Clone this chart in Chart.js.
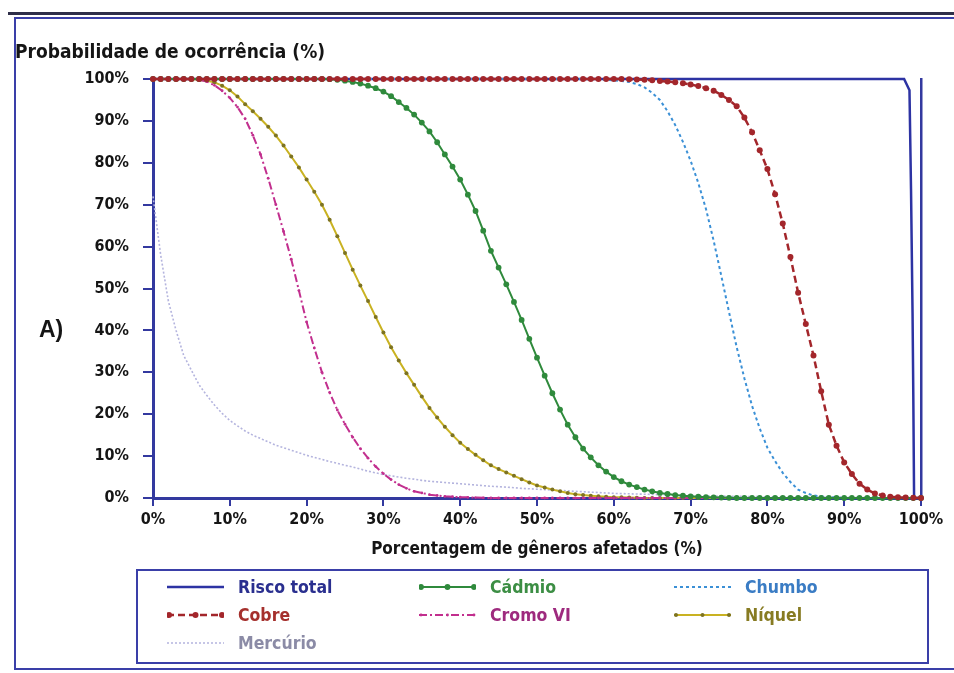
<!DOCTYPE html>
<html lang="pt">
<head>
<meta charset="utf-8">
<script src="https://cdn.jsdelivr.net/npm/chart.js@4.4.1/dist/chart.umd.min.js"></script>
<style>
  html, body { margin: 0; padding: 0; background: #fff; }
  #painel { position: relative; width: 954px; height: 673px; overflow: hidden; background: #fff;
            font-family: 'Liberation Sans Narrow', 'DejaVu Sans Condensed', 'Arial Narrow', sans-serif; }
  #linhaTopo { position: absolute; left: 8px; right: 0; top: 12px; height: 3px; background: #2e2e48; }
  #moldura { position: absolute; left: 14px; top: 17px; right: -6px; bottom: 3px; border: 2px solid #3a3fa8; }
  #grafico { position: absolute; left: 0; top: 0; }
  #tituloY { position: absolute; left: 15px; top: 40px; font-weight: bold; font-size: 19px; color: #151515; }
  #rotuloA { position: absolute; left: 39px; top: 316px; font: bold 23px 'Liberation Sans', Arial, sans-serif; color: #151515; }
  #legenda { position: absolute; left: 136px; top: 569px; width: 789px; height: 91px; border: 2px solid #3a3fa8; }
  .item { position: absolute; height: 24px; display: flex; align-items: center; font-weight: bold; font-size: 17.5px; white-space: nowrap; }
  .item svg { margin-right: 14px; }
</style>
</head>
<body>
<div id="painel">
  <div id="linhaTopo"></div>
  <div id="moldura"></div>
  <canvas id="grafico" width="954" height="673"></canvas>
  <div id="tituloY">Probabilidade de ocorrência (%)</div>
  <div id="rotuloA">A)</div>
  <div id="legenda"></div>
</div>
<script>
// Percentage of affected genera (x), in 1% steps
const generosPct = [
  0, 1, 2, 3, 4, 5, 6, 7, 8, 9,
  10, 11, 12, 13, 14, 15, 16, 17, 18, 19,
  20, 21, 22, 23, 24, 25, 26, 27, 28, 29,
  30, 31, 32, 33, 34, 35, 36, 37, 38, 39,
  40, 41, 42, 43, 44, 45, 46, 47, 48, 49,
  50, 51, 52, 53, 54, 55, 56, 57, 58, 59,
  60, 61, 62, 63, 64, 65, 66, 67, 68, 69,
  70, 71, 72, 73, 74, 75, 76, 77, 78, 79,
  80, 81, 82, 83, 84, 85, 86, 87, 88, 89,
  90, 91, 92, 93, 94, 95, 96, 97, 98, 99,
  100
];

// Probability of occurrence (%) per metal
const cobre = [
  100, 100, 100, 100, 100, 100, 100, 100, 100, 100,
  100, 100, 100, 100, 100, 100, 100, 100, 100, 100,
  100, 100, 100, 100, 100, 100, 100, 100, 100, 100,
  100, 100, 100, 100, 100, 100, 100, 100, 100, 100,
  100, 100, 100, 100, 100, 100, 100, 100, 100, 100,
  100, 100, 100, 100, 100, 100, 100, 100, 100, 100,
  100, 100, 99.95, 99.9, 99.8, 99.7, 99.55, 99.4, 99.2, 99,
  98.7, 98.3, 97.8, 97.2, 96.2, 95, 93.5, 90.8, 87.3, 83,
  78.5, 72.5, 65.5, 57.5, 49, 41.5, 34, 25.5, 17.5, 12.5,
  8.5, 5.7, 3.4, 2, 1.1, 0.6, 0.3, 0.15, 0.1, 0.05,
  0
];

const mercurio = [
  72, 58, 47, 40, 34, 30.5, 27, 24.5, 22.2, 20.2,
  18.5, 17.2, 16, 15, 14.2, 13.4, 12.6, 12, 11.4, 10.8,
  10.2, 9.7, 9.2, 8.7, 8.3, 7.8, 7.4, 6.9, 6.4, 6,
  5.6, 5.3, 5, 4.7, 4.5, 4.2, 4, 3.85, 3.7, 3.55,
  3.4, 3.25, 3.1, 2.95, 2.8, 2.7, 2.6, 2.45, 2.3, 2.2,
  2.1, 2, 1.9, 1.8, 1.7, 1.6, 1.5, 1.4, 1.3, 1.2,
  1.1, 1.05, 1, 0.95, 0.9, 0.85, 0.8, 0.75, 0.7, 0.65,
  0.6, 0.55, 0.5, 0.48, 0.45, 0.42, 0.4, 0.38, 0.35, 0.32,
  0.3, 0.28, 0.27, 0.26, 0.25, 0.24, 0.23, 0.22, 0.21, 0.2,
  0.19, 0.18, 0.17, 0.16, 0.15, 0.14, 0.13, 0.12, 0.11, 0.1,
  0.1
];

const cadmio = [
  100, 100, 100, 100, 100, 100, 100, 100, 100, 100,
  100, 100, 100, 100, 100, 100, 100, 100, 100, 100,
  100, 100, 100, 99.95, 99.8, 99.6, 99.3, 98.9, 98.4, 97.8,
  97, 95.9, 94.5, 93.1, 91.5, 89.6, 87.5, 84.9, 82, 79.1,
  76, 72.4, 68.5, 63.8, 59, 55, 51, 46.8, 42.5, 38,
  33.5, 29.2, 25, 21.1, 17.5, 14.5, 11.8, 9.7, 7.8, 6.3,
  5, 4, 3.2, 2.6, 2, 1.6, 1.2, 0.95, 0.7, 0.55,
  0.4, 0.3, 0.2, 0.15, 0.1, 0.05, 0, 0, 0, 0,
  0, 0, 0, 0, 0, 0, 0, 0, 0, 0,
  0, 0, 0, 0, 0, 0, 0, 0, 0, 0,
  0
];

const cromoVI = [
  100, 100, 100, 100, 100, 99.9, 99.8, 99.4, 98.5, 97.2,
  95.5, 93.3, 90.5, 86.6, 82, 76.3, 70, 63.6, 57, 49.5,
  42, 35.8, 30, 25.2, 21, 17.6, 14.5, 11.8, 9.5, 7.5,
  5.8, 4.4, 3.2, 2.3, 1.6, 1.2, 0.8, 0.6, 0.4, 0.3,
  0.2, 0.15, 0.1, 0.05, 0, 0, 0, 0, 0, 0,
  0, 0, 0, 0, 0, 0, 0, 0, 0, 0,
  0, 0, 0, 0, 0, 0, 0, 0, 0, 0,
  0, 0, 0, 0, 0, 0, 0, 0, 0, 0,
  0, 0, 0, 0, 0, 0, 0, 0, 0, 0,
  0, 0, 0, 0, 0, 0, 0, 0, 0, 0,
  0
];

const chumbo = [
  100, 100, 100, 100, 100, 100, 100, 100, 100, 100,
  100, 100, 100, 100, 100, 100, 100, 100, 100, 100,
  100, 100, 100, 100, 100, 100, 100, 100, 100, 100,
  100, 100, 100, 100, 100, 100, 100, 100, 100, 100,
  100, 100, 100, 100, 100, 100, 100, 100, 100, 100,
  100, 100, 100, 100, 100, 100, 100, 99.95, 99.9, 99.8,
  99.7, 99.5, 99.3, 98.8, 98, 96.7, 95, 92.3, 89, 85,
  80.5, 75.2, 69, 61.4, 53, 44.4, 36, 28.6, 22, 16.6,
  12, 8.8, 6, 3.8, 2, 1.2, 0.6, 0.4, 0.2, 0.1,
  0, 0, 0, 0, 0, 0, 0, 0, 0, 0,
  0
];

const niquel = [
  100, 100, 100, 100, 100, 100, 99.8, 99.6, 99.2, 98.4,
  97.3, 95.8, 94, 92.3, 90.5, 88.6, 86.5, 84.1, 81.5, 78.9,
  76, 73.1, 70, 66.4, 62.5, 58.5, 54.5, 50.7, 47, 43.2,
  39.5, 36, 32.8, 29.8, 27, 24.2, 21.5, 19.2, 17, 15,
  13.2, 11.7, 10.3, 9, 7.8, 6.9, 6.1, 5.3, 4.5, 3.7,
  3, 2.5, 2, 1.6, 1.2, 0.9, 0.7, 0.55, 0.4, 0.3,
  0.2, 0.15, 0.1, 0.05, 0, 0, 0, 0, 0, 0,
  0, 0, 0, 0, 0, 0, 0, 0, 0, 0,
  0, 0, 0, 0, 0, 0, 0, 0, 0, 0,
  0, 0, 0, 0, 0, 0, 0, 0, 0, 0,
  0
];

// Total risk: flat at 100% until the very end, then a near-vertical drop
const riscoTotalX = [0, 97.8, 98.5, 98.7, 98.9, 99.0, 99.1, 100];
const riscoTotalY = [100, 100, 97.3, 73.7, 44, 24, 0, 0];

// Axis ticks
const ticksX = [0, 10, 20, 30, 40, 50, 60, 70, 80, 90, 100];
const ticksY = [0, 10, 20, 30, 40, 50, 60, 70, 80, 90, 100];

const AZUL_EIXO = '#33399f';
const FONTE = "'Liberation Sans Narrow', 'DejaVu Sans Condensed', 'Arial Narrow', sans-serif";

const pares = (xs, ys) => xs.map((x, i) => ({ x: x, y: ys[i] }));

const series = [
  { label: 'Risco total', xs: riscoTotalX, ys: riscoTotalY, cor: '#2d33a3', texto: '#2a2f8f',
    largura: 2.5, traco: [], raio: 0, ordem: 10 },
  { label: 'Cobre', xs: generosPct, ys: cobre, cor: '#a3262b', texto: '#a5302d',
    largura: 2.5, traco: [7, 4], raio: 3, ordem: 1 },
  { label: 'Mercúrio', xs: generosPct, ys: mercurio, cor: '#b4b4de', texto: '#8b8ba6',
    largura: 1.6, traco: [2, 2], raio: 0, ordem: 7 },
  { label: 'Cádmio', xs: generosPct, ys: cadmio, cor: '#2f8a3c', texto: '#3c8e44',
    largura: 2, traco: [], raio: 2.9, ordem: 2 },
  { label: 'Cromo VI', xs: generosPct, ys: cromoVI, cor: '#c22f8e', texto: '#9e2a7e',
    largura: 2, traco: [8, 3, 2, 3], raio: 1.4, ordem: 3 },
  { label: 'Chumbo', xs: generosPct, ys: chumbo, cor: '#3b90d6', texto: '#3a7cc4',
    largura: 2, traco: [3, 3], raio: 0, ordem: 4 },
  { label: 'Níquel', xs: generosPct, ys: niquel, cor: '#c9b222', texto: '#877b22',
    largura: 2, traco: [], raio: 2, ordem: 5, corPonto: '#7d7322' }
];

const datasets = series.map(s => ({
  label: s.label,
  data: pares(s.xs, s.ys),
  borderColor: s.cor,
  borderWidth: s.largura,
  borderDash: s.traco,
  pointRadius: s.raio,
  pointBorderWidth: 0,
  pointBackgroundColor: s.corPonto || s.cor,
  pointHoverRadius: 0,
  tension: 0,
  fill: false,
  order: s.ordem,
  clip: false
}));

const eixoFonte = { family: FONTE, size: 16, weight: 'bold' };

new Chart(document.getElementById('grafico'), {
  type: 'line',
  data: { datasets: datasets },
  options: {
    responsive: false,
    animation: false,
    events: [],
    layout: { padding: { left: 15, right: 33, top: 79, bottom: 108 } },
    plugins: { legend: { display: false }, title: { display: false }, tooltip: { enabled: false } },
    scales: {
      x: {
        type: 'linear', position: 'bottom', min: 0, max: 100,
        afterFit: s => { s.height = 67; },
        afterBuildTicks: s => { s.ticks = ticksX.map(v => ({ value: v })); },
        ticks: { callback: v => v + '%', color: '#151515', font: eixoFonte, padding: 4, maxRotation: 0 },
        grid: { drawOnChartArea: false, drawTicks: true, tickLength: 8, color: AZUL_EIXO, lineWidth: 2 },
        border: { display: true, color: AZUL_EIXO, width: 3 },
        title: { display: true, text: 'Porcentagem de gêneros afetados (%)', color: '#151515',
                 font: { family: FONTE, size: 17, weight: 'bold' }, padding: { top: 0, bottom: 5 } }
      },
      y: {
        type: 'linear', position: 'left', min: 0, max: 100,
        afterFit: s => { s.width = 138; },
        afterBuildTicks: s => { s.ticks = ticksY.map(v => ({ value: v })); },
        ticks: { callback: v => v + '%', color: '#151515', font: eixoFonte, padding: 14 },
        grid: { drawOnChartArea: false, drawTicks: true, tickLength: 10, color: AZUL_EIXO, lineWidth: 2 },
        border: { display: true, color: AZUL_EIXO, width: 3 }
      },
      y2: {
        type: 'linear', position: 'right', min: 0, max: 100,
        afterFit: s => { s.width = 0; },
        ticks: { display: false },
        grid: { display: false, drawTicks: false },
        border: { display: true, color: AZUL_EIXO, width: 2.5 }
      }
    }
  }
});

// Legend: three columns inside a framed box
const legendaLayout = [
  ['Risco total', 0, 0], ['Cádmio', 1, 0], ['Chumbo', 2, 0],
  ['Cobre', 0, 1], ['Cromo VI', 1, 1], ['Níquel', 2, 1],
  ['Mercúrio', 0, 2]
];
const colunasX = [29, 281, 536];
const linhasY = [4, 32, 60];
const caixa = document.getElementById('legenda');
legendaLayout.forEach(([nome, c, l]) => {
  const s = series.find(v => v.label === nome);
  const w = 57, h = 10, m = h / 2;
  let svg = `<svg width="${w}" height="${h}" viewBox="0 0 ${w} ${h}">` +
    `<line x1="0" y1="${m}" x2="${w}" y2="${m}" stroke="${s.cor}" stroke-width="${s.largura}"` +
    (s.traco.length ? ` stroke-dasharray="${s.traco.join(' ')}"` : '') + '/>';
  if (s.raio > 0) {
    [2, w / 2, w - 2].forEach(px => {
      svg += `<circle cx="${px}" cy="${m}" r="${s.raio}" fill="${s.corPonto || s.cor}"/>`;
    });
  }
  svg += '</svg>';
  const d = document.createElement('div');
  d.className = 'item';
  d.style.left = colunasX[c] + 'px';
  d.style.top = linhasY[l] + 'px';
  d.style.color = s.texto;
  d.innerHTML = svg + '<span>' + nome + '</span>';
  caixa.appendChild(d);
});
</script>
</body>
</html>
